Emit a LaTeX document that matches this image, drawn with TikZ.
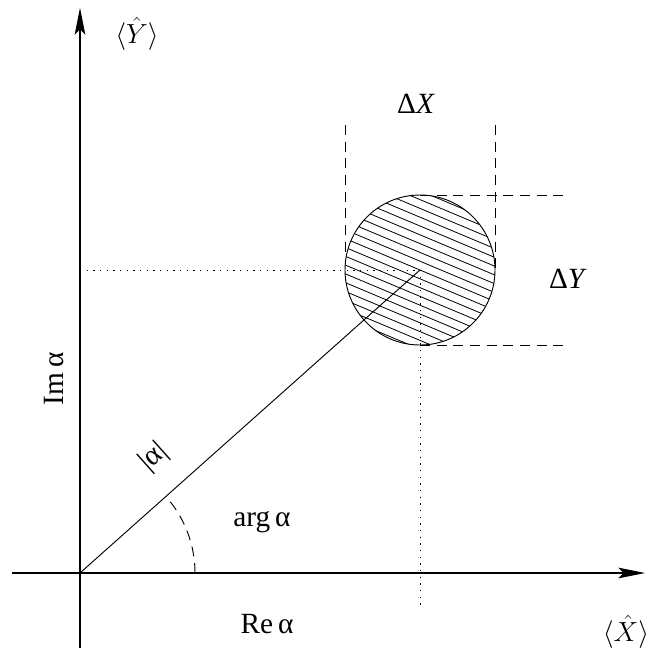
\documentclass[tikz,border=0pt]{standalone}
\usepackage{fontspec}
\setmainfont{Liberation Serif}
\usetikzlibrary{arrows.meta,calc}
\begin{document}
\begin{tikzpicture}[x=0.75pt,y=-0.75pt,
  lbl/.style={font=\fontsize{22}{24}\selectfont, inner sep=0pt},
  albl/.style={font=\fontsize{20}{22}\selectfont, inner sep=0pt},
  axis/.style={line width=0.8pt, -{Stealth[length=20pt,width=8pt,inset=4pt]}},
  thin/.style={line width=0.7pt},
  dsh/.style={line width=0.7pt, dash pattern=on 7.5pt off 5pt},
  dot/.style={line width=0.7pt, dash pattern=on 1pt off 4pt}]
\useasboundingbox (0,0) rectangle (648,650);
\coordinate (O) at (80,573);
\coordinate (C) at (420,270);
\coordinate (xs) at (12,573);
\coordinate (xe) at (645,573);
\coordinate (ys) at (80,648);
\coordinate (ye) at (80,8);
\draw[axis] (xs) -- (xe);
\draw[axis] (ys) -- (ye);
% hatched circle
\begin{scope}
\clip (C) circle[radius=75];
\foreach \k in {-16,...,16} {
  \draw[line width=0.6pt] ($(C)+(-100,\k*8.8-42)$) -- ($(C)+(100,\k*8.8+42)$);
}
\end{scope}
\draw[thin] (C) circle[radius=75];
% dashed guides
\draw[dsh] (345,125) -- (345,258);
\draw[dsh] (495,125) -- (495,272);
\draw[dsh] (420,195) -- (568,195);
\draw[dsh] (420,345) -- (568,345);
% dotted projections
\draw[dot] (80,270) -- (C);
\draw[dot] (C) -- (420,606);
% vector
\draw[thin] (O) -- (C);
% angle arc
\draw[dsh] (O) ++(0:115) arc[start angle=0,end angle=-41.7,radius=115];
% labels
\node[albl] (ly) at (137,34) {$\langle\hat{Y}\rangle$};
\node[albl] (lx) at (626,632) {$\langle\hat{X}\rangle$};
\node[lbl] (dx) at (416,104) {Δ\textit{X}};
\node[lbl] (dy) at (568,279) {Δ\textit{Y}};
\node[lbl,rotate=90] (im) at (54,379) {Im\,α};
\node[lbl,rotate=41.7] (ab) at (154,457) {|α|};
\node[lbl] (arg) at (262,522) {arg\,α};
\node[lbl] (re) at (267,624) {Re\,α};
\end{tikzpicture}
\end{document}
